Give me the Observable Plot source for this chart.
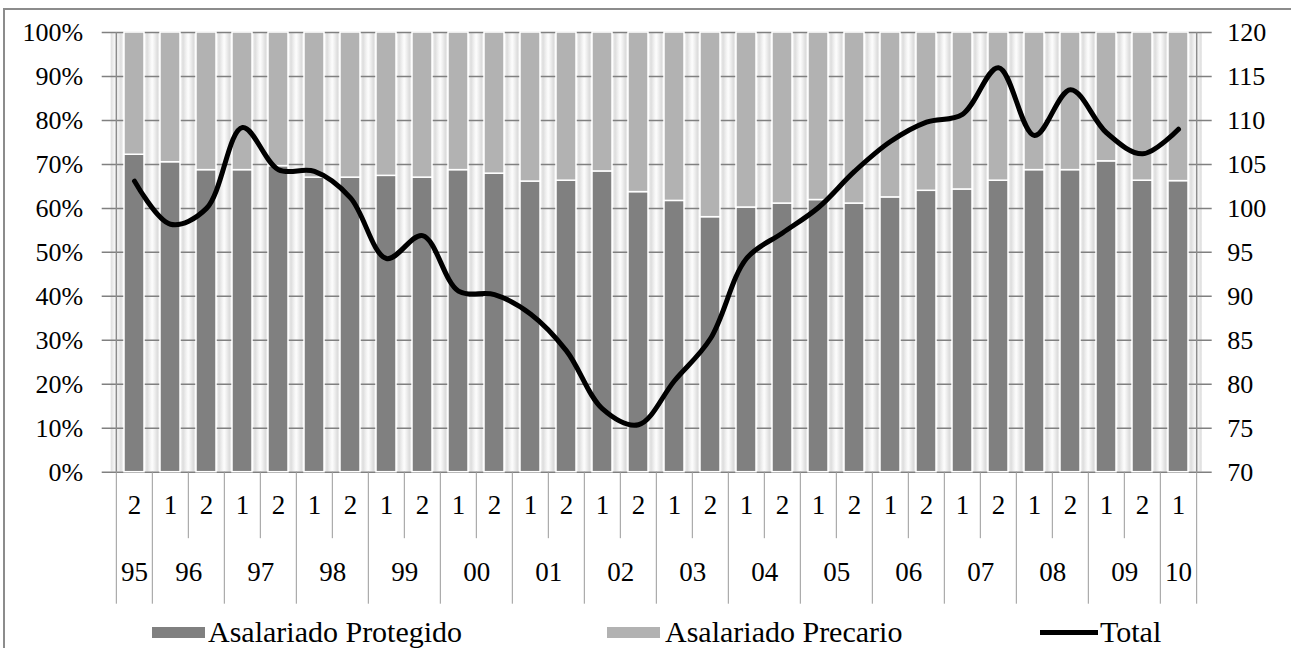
<!DOCTYPE html>
<html><head><meta charset="utf-8">
<script src="https://cdn.jsdelivr.net/npm/d3@7"></script>
<script src="https://cdn.jsdelivr.net/npm/@observablehq/plot@0.6"></script>
</head><body style="margin:0;background:#fff;color:#000">
<div id="wrap" style="position:relative;width:1291px;height:648px;overflow:hidden;background:#fff;font-family:'Liberation Serif'">
<div style="position:absolute;left:3px;top:8px;width:1320px;height:720px;border:2px solid #8c8c8c;box-sizing:border-box"></div>
<div id="chart" style="position:absolute;left:0;top:0"></div>
<div id="legend" style="position:absolute;left:0;top:618px;width:1291px;height:30px">
  <div style="position:absolute;left:152px;top:9px;width:53px;height:11px;background:#808080"></div>
  <div style="position:absolute;left:208px;top:-3px;line-height:34px;white-space:nowrap;font-family:'Liberation Serif';font-size:30px">Asalariado Protegido</div>
  <div style="position:absolute;left:607px;top:9px;width:53px;height:11px;background:#b2b2b2"></div>
  <div style="position:absolute;left:665px;top:-3px;line-height:34px;white-space:nowrap;font-family:'Liberation Serif';font-size:30px">Asalariado Precario</div>
  <div style="position:absolute;left:1040px;top:12px;width:58px;height:5px;background:#000"></div>
  <div style="position:absolute;left:1100px;top:-3px;line-height:34px;white-space:nowrap;font-family:'Liberation Serif';font-size:30px">Total</div>
</div>
</div>
<script>
// ---- data ----
const periods = ["95-2","96-1","96-2","97-1","97-2","98-1","98-2","99-1","99-2","00-1","00-2","01-1","01-2","02-1","02-2","03-1","03-2","04-1","04-2","05-1","05-2","06-1","06-2","07-1","07-2","08-1","08-2","09-1","09-2","10-1"];
const quarters = ["2","1","2","1","2","1","2","1","2","1","2","1","2","1","2","1","2","1","2","1","2","1","2","1","2","1","2","1","2","1"];
const years = ["95","96","97","98","99","00","01","02","03","04","05","06","07","08","09","10"];
const protegido = [72.2,70.5,68.7,68.7,69.6,67.0,67.0,67.4,67.0,68.7,67.9,66.1,66.3,68.4,63.7,61.7,58.0,60.2,61.1,61.9,61.1,62.5,64.0,64.3,66.3,68.7,68.7,70.7,66.3,66.2];
const total = [103.1,98.2,100.0,109.2,104.4,104.2,101.2,94.3,96.9,90.6,90.2,88.0,83.8,77.2,75.4,80.4,85.2,94.3,97.2,100.1,104.2,107.6,109.8,110.7,116.0,108.3,113.5,108.6,106.2,109.0];
const leftTicks = [0,10,20,30,40,50,60,70,80,90,100];
const rightTicks = [70,75,80,85,90,95,100,105,110,115,120];

// ---- layout ----
const FONT = "Liberation Serif";
const W = 1291, H = 618, ML = 110.7, MR = 89.3, MT = 32, MB = 146.3;
const step = (W - ML - MR) / periods.length;
const bw = step * 0.55;
const gapInset = (bw - (step - bw)) / 2;

const rows = periods.map((p, i) => ({p, q: quarters[i], prot: protegido[i], tot: total[i]}));
const yearInfo = years.map(y => {
  const ps = periods.filter(p => p.startsWith(y + "-"));
  return {y, first: ps[0], count: ps.length};
});
const longTicks = yearInfo.map(d => d.first);
const shortTicks = periods.filter((p, i) => i > 0 && quarters[i] === "2" && periods[i-1].slice(0,2) === p.slice(0,2));
const toPct = v => (v - 70) * 2;

const svg = Plot.plot({
  width: W, height: H,
  marginLeft: ML, marginRight: MR, marginTop: MT, marginBottom: MB,
  style: {fontSize: "26px", color: "#000", background: "transparent"},
  x: {type: "band", domain: periods, paddingInner: 0.45, paddingOuter: 0.225},
  y: {domain: [0, 100]},
  marks: [
    Plot.barY(periods, {x: d => d, y1: 0, y2: 100, dx: step / 2, insetLeft: gapInset, insetRight: gapInset, fill: "url(#gapGrad)", clip: true}),
    Plot.barY([periods[0]], {x: d => d, y1: 0, y2: 100, dx: -step / 2, insetLeft: gapInset, insetRight: gapInset, fill: "url(#gapGrad)", clip: true}),
    Plot.ruleY(leftTicks, {stroke: "#808080", strokeWidth: 1.5, insetLeft: -9, insetRight: -10}),
    Plot.ruleX([periods[0]], {x: d => d, dx: -step / 2, stroke: "#8c8c8c", strokeWidth: 1.5}),
    Plot.ruleX([periods[periods.length - 1]], {x: d => d, dx: step / 2, stroke: "#8c8c8c", strokeWidth: 1.5}),
    Plot.barY(rows, {x: "p", y1: 0, y2: "prot", fill: "#808080", stroke: "#fff", strokeWidth: 1.5}),
    Plot.barY(rows, {x: "p", y1: "prot", y2: 100, fill: "#b2b2b2", stroke: "#fff", strokeWidth: 1.5}),
    Plot.line(rows, {x: "p", y: d => toPct(d.tot), stroke: "#000", strokeWidth: 5, curve: "catmull-rom", strokeLinecap: "round"}),
    Plot.axisY(leftTicks, {anchor: "left", label: null, tickSize: 0, tickPadding: 28, tickFormat: d => d + "%", fontSize: 26}),
    Plot.axisY(rightTicks.map(toPct), {anchor: "right", label: null, tickSize: 0, tickPadding: 25, tickFormat: p => String(p / 2 + 70), fontSize: 26}),
    Plot.axisX(shortTicks, {anchor: "bottom", label: null, tickSize: 66.5, dx: -step / 2, tickFormat: () => "", stroke: "#9a9a9a"}),
    Plot.axisX(longTicks, {anchor: "bottom", label: null, tickSize: 132, dx: -step / 2, tickFormat: () => "", stroke: "#9a9a9a"}),
    Plot.axisX([periods[periods.length - 1]], {anchor: "bottom", label: null, tickSize: 132, dx: step / 2, tickFormat: () => "", stroke: "#9a9a9a"}),
    Plot.text(rows, {x: "p", text: "q", frameAnchor: "bottom", dy: 33.5, lineAnchor: "middle", fontSize: 27, fill: "#000"}),
    Plot.text(yearInfo.filter(d => d.count === 2), {x: "first", text: "y", frameAnchor: "bottom", dx: step / 2, dy: 100.5, lineAnchor: "middle", fontSize: 27, fill: "#000"}),
    Plot.text(yearInfo.filter(d => d.count === 1), {x: "first", text: "y", frameAnchor: "bottom", dy: 100.5, lineAnchor: "middle", fontSize: 27, fill: "#000"})
  ]
});

// font on every text of the svg
svg.setAttribute("font-family", FONT);
svg.style.fontFamily = "'" + FONT + "'";
svg.querySelectorAll("g, text").forEach(el => {
  if (el.hasAttribute("font-family")) el.setAttribute("font-family", FONT);
});
svg.querySelectorAll("text").forEach(t => { t.style.fontFamily = "'" + FONT + "'"; });

const NS = "http://www.w3.org/2000/svg";
const defs = document.createElementNS(NS, "defs");
const grad = document.createElementNS(NS, "linearGradient");
grad.setAttribute("id", "gapGrad");
grad.setAttribute("x1", "0"); grad.setAttribute("x2", "1");
grad.setAttribute("y1", "0"); grad.setAttribute("y2", "0");
[["0%","#ffffff"],["18%","#dcdcdc"],["38%","#f2f2f2"],["50%","#fdfdfd"],["62%","#f2f2f2"],["82%","#dcdcdc"],["100%","#ffffff"]].forEach(([o,c]) => {
  const s = document.createElementNS(NS, "stop");
  s.setAttribute("offset", o); s.setAttribute("stop-color", c);
  grad.appendChild(s);
});
defs.appendChild(grad);
svg.insertBefore(defs, svg.firstChild);
document.getElementById("chart").appendChild(svg);
</script>
</body></html>
